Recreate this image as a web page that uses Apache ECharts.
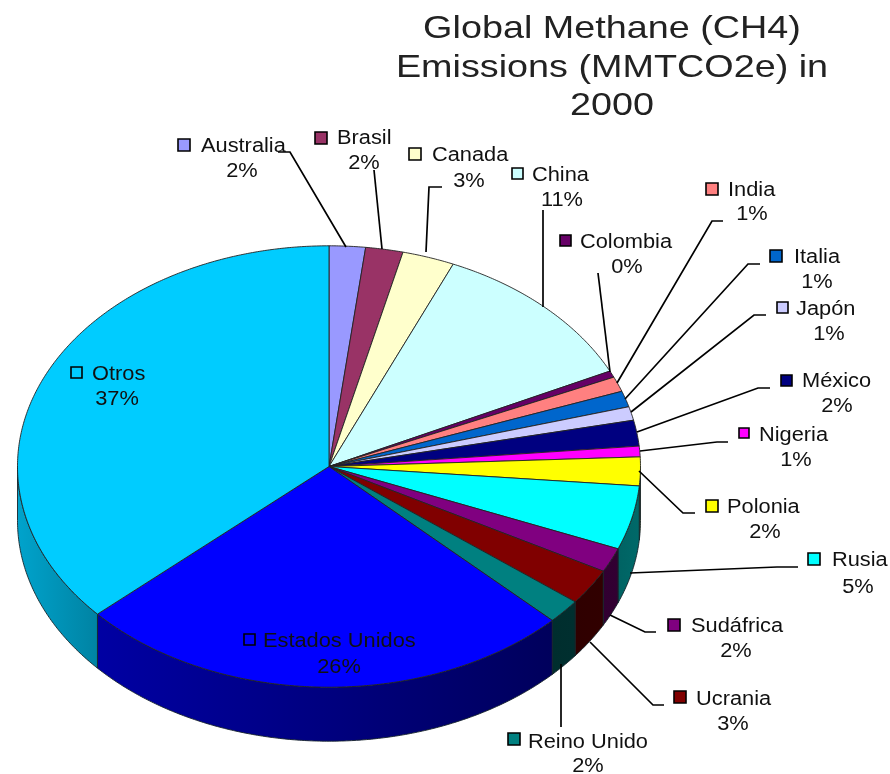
<!DOCTYPE html>
<html><head><meta charset="utf-8">
<style>html,body{margin:0;padding:0;background:#fff}#c{width:890px;height:774px}</style>
<script src="https://cdn.jsdelivr.net/npm/echarts@6/dist/echarts.min.js"></script>
</head><body><div id="c"></div>
<script>
// ---- data (share of total, %) ----
const categories = ['Australia','Brasil','Canada','China','Colombia','India','Italia','Japón','México','Nigeria','Polonia','Rusia','Sudáfrica','Ucrania','Reino Unido','Estados Unidos','Otros'];
const values = [1.88,1.94,2.71,11.36,0.48,1.1,1.17,1.0,1.89,0.78,2.1,4.68,1.78,2.64,1.78,26.06,36.67];
const titleLines = ['Global Methane (CH4)','Emissions (MMTCO2e) in','2000'];

// ---- styling / layout ----
const colors = ['#9999FF','#993366','#FFFFCC','#CCFFFF','#660066','#FF8080','#0066CC','#CCCCFF','#000080','#FF00FF','#FFFF00','#00FFFF','#800080','#800000','#008080','#0000FF','#00CCFF'];
const cx = 329, cy = 466.5, rx = 311.5, ry = 220.7, depth = 54;
const FONT = '"Liberation Sans", Arial, sans-serif';
// key: left, top, size; name: left, centre-y; pct: centre-x, centre-y
const labelBoxes = [
 [178,139,12, 201,146, 242,171],[315,132,12, 337,138, 364,163],[409,148,12, 432,155, 469,181],
 [512,168,11, 532,175, 562,200],[560,235,11, 580,242, 627,267],[706,183,12, 728,190, 752,214],
 [770,250,12, 794,257, 817,282],[777,302,11, 796,309, 829,334],[781,375,11, 802,381, 837,406],
 [739,428,10, 759,435, 796,460],[706,500,12, 727,507, 765,532],[808,553,12, 832,560, 858,587],
 [668,619,12, 691,626, 736,651],[674,691,12, 696,699, 733,724],[508,733,12, 528,742, 588,766],
 [244,634,11, 263,641, 339,667],[71,367,11, 92,374, 117,399]
];
const leaders = [
 [[278,152],[290,152],[346,247]],[[374,170],[382,249]],[[442,187],[429,187],[426,252]],
 [[543,210],[543,307]],[[598,273],[610,372]],[[723,221],[712,221],[617,383]],
 [[760,264],[748,264],[625,399]],[[766,315],[754,315],[631,412]],[[770,388],[758,388],[637,432]],
 [[728,442],[717,442],[640,451]],[[639,471],[683,513],[695,513]],[[630,573],[777,567],[798,567]],
 [[610,615],[645,632],[656,632]],[[590,642],[653,705],[664,705]],[[561,664],[561,727]],null,null
];

const total = values.reduce((a,b)=>a+b,0);
const starts = []; values.reduce((acc,v,i)=>{starts[i]=acc;return acc+v;},0);
const ang = v => v/total*2*Math.PI;
const pt = (t,dy=0)=>[cx+rx*Math.sin(t), cy-ry*Math.cos(t)+dy];
function arc(a,b,dy){const n=Math.max(2,Math.ceil((b-a)/0.008));const r=[];for(let i=0;i<=n;i++)r.push(pt(a+(b-a)*i/n,dy));return r;}
function shade(hex,f){const n=parseInt(hex.slice(1),16);const c=[n>>16,(n>>8)&255,n&255].map(x=>Math.round(x*f));return `rgb(${c.join(',')})`;}
// wall lighting stops: angle in degrees clockwise from top -> brightness
const wallLight=[[90,.42],[134,.36],[180,.42],[228,.64],[270,.8]];
function light(t){const d=t*180/Math.PI;for(let i=1;i<wallLight.length;i++){if(d<=wallLight[i][0]){const p=wallLight[i-1],q=wallLight[i];return p[1]+(q[1]-p[1])*(d-p[0])/(q[0]-p[0]);}}return .8;}

function renderSlice(params,api){
  const i=api.value(0);
  const a=ang(starts[i]), b=a+ang(values[i]);
  const children=[];
  const wa=Math.max(a,Math.PI/2), wb=Math.min(b,1.5*Math.PI);
  if(wb>wa){
    const top=arc(wa,wb,0), bot=arc(wa,wb,depth).reverse();
    const xs=top.map(p=>p[0]);
    children.push({type:'polygon',shape:{points:top.concat(bot)},
      style:{fill:{type:'linear',x:Math.max(...xs),y:0,x2:Math.min(...xs),y2:0,global:true,
        colorStops:[{offset:0,color:shade(colors[i],light(wa))},{offset:1,color:shade(colors[i],light(wb))}]},
        stroke:'#16242a',lineWidth:.9}});
  }
  children.push({type:'polygon',shape:{points:[[cx,cy]].concat(arc(a,b,0))},
    style:{fill:colors[i],stroke:'#222',lineWidth:.9}});
  return {type:'group',children};
}
function renderLabel(params,api){
  const i=api.value(0);
  const [kx,ky,ks,nx,ny,px,py]=labelBoxes[i];
  const children=[];
  if(leaders[i]) children.push({type:'polyline',shape:{points:leaders[i]},style:{fill:null,stroke:'#000',lineWidth:1.7}});
  children.push({type:'rect',shape:{x:kx,y:ky,width:ks,height:ks},style:{fill:colors[i],stroke:'#000',lineWidth:1.6}});
  children.push({type:'text',x:nx,y:ny,scaleX:1.09,style:{text:categories[i],x:0,y:0,fill:'#111',font:'20px '+FONT,textAlign:'left',textVerticalAlign:'middle'}});
  children.push({type:'text',x:px,y:py,scaleX:1.09,style:{text:Math.round(values[i]/total*100)+'%',x:0,y:0,fill:'#111',font:'20px '+FONT,textAlign:'center',textVerticalAlign:'middle'}});
  return {type:'group',children};
}
const idx=values.map((v,i)=>[i,v]);
const chart=echarts.init(document.getElementById('c'),null,{renderer:'canvas'});
chart.setOption({
  animation:false,backgroundColor:'#fff',
  graphic:titleLines.map((t,i)=>({type:'text',x:612,y:[29,68,106][i],scaleX:1.18,silent:true,
    style:{text:t,x:0,y:0,fill:'#222',font:'32px '+FONT,textAlign:'center',textVerticalAlign:'middle'}})),
  series:[
    {type:'custom',coordinateSystem:'none',silent:true,data:idx,renderItem:renderSlice,z:1},
    {type:'custom',coordinateSystem:'none',silent:true,data:idx,renderItem:renderLabel,z:2}
  ]
});
</script></body></html>
